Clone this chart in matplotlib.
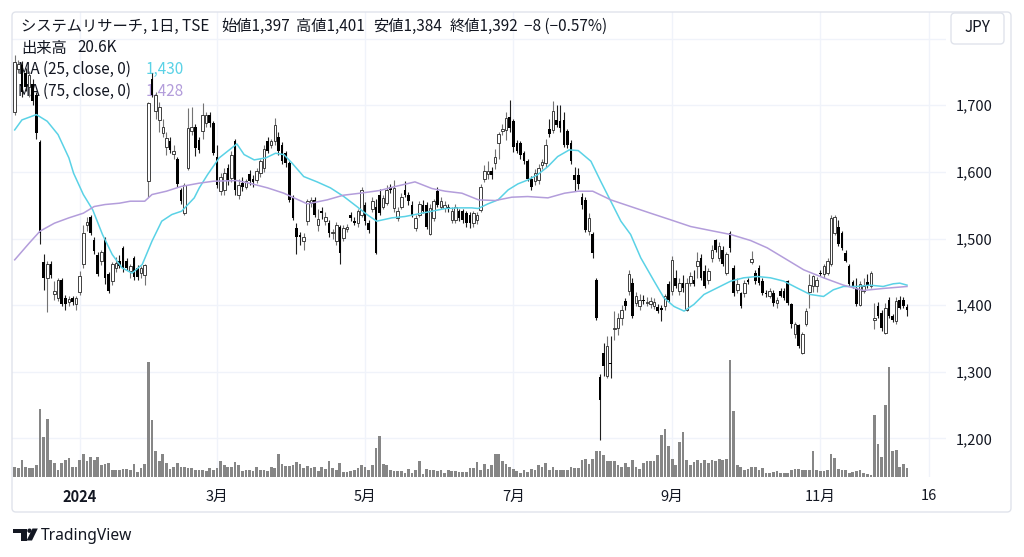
import numpy as np
import matplotlib
matplotlib.use("Agg")
import matplotlib.pyplot as plt
from matplotlib.patches import FancyBboxPatch, Polygon, Circle

plt.rcParams['font.family'] = ['Noto Sans CJK JP', 'DejaVu Sans']

# daily candles (yen)
opens = [
    1690, 1755, 1760, 1748, 1728, 1732, 1716, 1645, 1465, 1440,
    1461, 1416, 1411, 1437, 1411, 1405, 1411, 1401, 1420, 1461,
    1521, 1532, 1498, 1475, 1466, 1500, 1446, 1436, 1455, 1466,
    1485, 1466, 1451, 1470, 1456, 1448, 1445, 1587, 1740, 1691,
    1678, 1658, 1638, 1646, 1627, 1620, 1573, 1538, 1606, 1661,
    1668, 1648, 1661, 1673, 1686, 1673, 1622, 1571, 1573, 1606,
    1591, 1646, 1566, 1583, 1578, 1597, 1590, 1588, 1598, 1606,
    1647, 1641, 1646, 1653, 1641, 1628, 1613, 1561, 1516, 1505,
    1496, 1526, 1553, 1558, 1520, 1541, 1527, 1523, 1508, 1496,
    1517, 1501, 1515, 1536, 1527, 1524, 1536, 1551, 1523, 1544,
    1548, 1566, 1548, 1553, 1578, 1546, 1531, 1548, 1573, 1565,
    1551, 1516, 1536, 1551, 1550, 1507, 1531, 1571, 1548, 1546,
    1548, 1528, 1528, 1541, 1541, 1538, 1536, 1523, 1528, 1543,
    1590, 1597, 1602, 1613, 1643, 1661, 1663, 1683, 1676, 1643,
    1643, 1628, 1617, 1590, 1586, 1588, 1610, 1613, 1665, 1663,
    1678, 1676, 1678, 1661, 1643, 1596, 1596, 1563, 1558, 1511,
    1507, 1437, 1292, 1328, 1293, 1313, 1364, 1366, 1381, 1406,
    1421, 1433, 1403, 1398, 1408, 1403, 1401, 1399, 1397, 1395,
    1398, 1431, 1421, 1441, 1421, 1433, 1393, 1433, 1438, 1458,
    1471, 1451, 1438, 1471, 1498, 1471, 1483, 1448, 1508, 1456,
    1423, 1418, 1418, 1438, 1464, 1448, 1456, 1436, 1418, 1413,
    1418, 1403, 1421, 1421, 1436, 1401, 1356, 1370, 1328, 1371,
    1420, 1428, 1428, 1448, 1446, 1448, 1461, 1509, 1518, 1508,
    1478, 1458, 1434, 1426, 1400, 1421, 1434, 1428, 1378, 1398,
    1388, 1358, 1408, 1383, 1376, 1408, 1408, 1397,
]
highs = [
    1775, 1768, 1766, 1756, 1752, 1740, 1720, 1648, 1476, 1466,
    1466, 1436, 1440, 1440, 1415, 1413, 1414, 1414, 1451, 1520,
    1533, 1535, 1503, 1480, 1482, 1502, 1450, 1465, 1472, 1475,
    1488, 1470, 1462, 1474, 1460, 1458, 1462, 1705, 1748, 1720,
    1705, 1680, 1660, 1652, 1640, 1622, 1576, 1584, 1696, 1698,
    1672, 1652, 1703, 1690, 1690, 1676, 1640, 1598, 1606, 1612,
    1632, 1650, 1590, 1592, 1590, 1603, 1596, 1606, 1620, 1640,
    1652, 1650, 1681, 1660, 1645, 1632, 1616, 1565, 1523, 1510,
    1508, 1560, 1562, 1562, 1545, 1548, 1540, 1528, 1515, 1525,
    1520, 1520, 1522, 1540, 1532, 1545, 1578, 1555, 1528, 1562,
    1560, 1574, 1566, 1580, 1582, 1588, 1548, 1568, 1587, 1570,
    1556, 1536, 1557, 1558, 1555, 1552, 1560, 1577, 1562, 1556,
    1552, 1548, 1552, 1545, 1545, 1542, 1540, 1542, 1540, 1582,
    1610, 1616, 1608, 1635, 1660, 1672, 1690, 1708, 1680, 1648,
    1646, 1632, 1620, 1594, 1604, 1612, 1620, 1650, 1680, 1706,
    1701, 1700, 1690, 1665, 1648, 1608, 1606, 1568, 1562, 1538,
    1510, 1440, 1296, 1343, 1353, 1353, 1391, 1388, 1400, 1410,
    1453, 1440, 1420, 1416, 1415, 1412, 1412, 1410, 1402, 1400,
    1416, 1436, 1473, 1453, 1440, 1445, 1440, 1450, 1453, 1480,
    1476, 1460, 1455, 1490, 1500, 1495, 1488, 1480, 1511, 1460,
    1440, 1420, 1438, 1440, 1481, 1452, 1460, 1440, 1422, 1425,
    1422, 1412, 1425, 1426, 1438, 1403, 1375, 1372, 1360, 1395,
    1446, 1445, 1442, 1452, 1462, 1470, 1536, 1536, 1528, 1512,
    1482, 1462, 1438, 1440, 1436, 1440, 1446, 1451, 1403, 1404,
    1392, 1403, 1412, 1386, 1412, 1413, 1412, 1401,
]
lows = [
    1686, 1748, 1712, 1722, 1712, 1700, 1650, 1492, 1423, 1390,
    1440, 1408, 1406, 1398, 1392, 1398, 1400, 1392, 1415, 1456,
    1511, 1505, 1476, 1443, 1460, 1431, 1418, 1430, 1450, 1455,
    1450, 1452, 1440, 1438, 1438, 1440, 1430, 1562, 1712, 1680,
    1660, 1652, 1625, 1628, 1620, 1578, 1552, 1536, 1603, 1655,
    1624, 1628, 1650, 1668, 1668, 1625, 1576, 1566, 1565, 1580,
    1585, 1566, 1560, 1572, 1574, 1580, 1578, 1583, 1592, 1600,
    1628, 1636, 1640, 1625, 1612, 1608, 1555, 1528, 1476, 1490,
    1482, 1520, 1548, 1532, 1512, 1530, 1520, 1503, 1500, 1490,
    1461, 1496, 1510, 1526, 1520, 1518, 1532, 1520, 1508, 1540,
    1476, 1536, 1544, 1550, 1568, 1540, 1526, 1545, 1562, 1550,
    1532, 1512, 1532, 1538, 1514, 1505, 1526, 1548, 1544, 1540,
    1540, 1524, 1524, 1526, 1524, 1518, 1516, 1518, 1522, 1540,
    1585, 1590, 1590, 1605, 1620, 1655, 1648, 1660, 1630, 1628,
    1620, 1612, 1586, 1573, 1580, 1582, 1604, 1608, 1652, 1658,
    1668, 1660, 1638, 1636, 1612, 1571, 1575, 1545, 1510, 1506,
    1471, 1378, 1198, 1293, 1290, 1291, 1348, 1355, 1370, 1393,
    1415, 1380, 1398, 1392, 1402, 1398, 1396, 1394, 1388, 1376,
    1392, 1404, 1415, 1425, 1415, 1420, 1391, 1428, 1428, 1440,
    1438, 1425, 1432, 1465, 1480, 1466, 1458, 1445, 1480, 1414,
    1418, 1396, 1412, 1432, 1461, 1432, 1430, 1415, 1412, 1410,
    1398, 1396, 1412, 1408, 1400, 1366, 1350, 1335, 1327, 1368,
    1396, 1420, 1420, 1444, 1440, 1445, 1458, 1505, 1488, 1482,
    1464, 1428, 1425, 1398, 1398, 1418, 1426, 1425, 1364, 1380,
    1361, 1356, 1380, 1375, 1372, 1394, 1396, 1384,
]
closes = [
    1765, 1762, 1720, 1728, 1745, 1706, 1658, 1508, 1441, 1462,
    1445, 1421, 1437, 1401, 1401, 1409, 1404, 1411, 1443, 1508,
    1525, 1508, 1481, 1447, 1480, 1441, 1421, 1461, 1463, 1458,
    1456, 1456, 1459, 1442, 1442, 1455, 1460, 1703, 1716, 1716,
    1698, 1668, 1651, 1633, 1632, 1582, 1556, 1581, 1666, 1668,
    1636, 1633, 1686, 1686, 1673, 1628, 1581, 1593, 1598, 1586,
    1626, 1573, 1581, 1578, 1587, 1586, 1585, 1601, 1616, 1634,
    1632, 1647, 1671, 1631, 1616, 1613, 1558, 1531, 1503, 1502,
    1503, 1556, 1558, 1536, 1530, 1539, 1532, 1508, 1510, 1521,
    1478, 1516, 1518, 1531, 1524, 1541, 1573, 1526, 1513, 1556,
    1478, 1538, 1561, 1573, 1573, 1576, 1541, 1563, 1566, 1556,
    1536, 1531, 1552, 1541, 1517, 1546, 1556, 1551, 1556, 1551,
    1545, 1542, 1548, 1531, 1528, 1523, 1523, 1538, 1535, 1578,
    1601, 1602, 1596, 1623, 1657, 1665, 1681, 1666, 1638, 1631,
    1626, 1616, 1590, 1578, 1598, 1606, 1615, 1641, 1657, 1691,
    1671, 1666, 1641, 1641, 1616, 1588, 1582, 1551, 1513, 1531,
    1478, 1380, 1257, 1308, 1338, 1311, 1366, 1381, 1393, 1398,
    1447, 1383, 1413, 1408, 1406, 1405, 1406, 1404, 1391, 1393,
    1413, 1408, 1468, 1428, 1433, 1426, 1433, 1443, 1432, 1466,
    1441, 1428, 1451, 1483, 1483, 1488, 1461, 1476, 1486, 1418,
    1431, 1398, 1433, 1435, 1469, 1436, 1433, 1418, 1416, 1421,
    1403, 1408, 1414, 1411, 1403, 1371, 1371, 1338, 1357, 1391,
    1430, 1443, 1438, 1446, 1458, 1466, 1531, 1533, 1491, 1486,
    1466, 1431, 1429, 1401, 1432, 1429, 1429, 1448, 1381, 1383,
    1366, 1396, 1383, 1378, 1406, 1396, 1398, 1392,
]
# volume, thousands of shares
volumes = [
    24, 21, 40, 23, 20, 20, 27, 156, 92, 132,
    40, 32, 17, 32, 40, 44, 23, 24, 38, 53,
    37, 46, 38, 46, 27, 29, 32, 17, 15, 15,
    19, 19, 17, 29, 11, 21, 29, 263, 130, 60,
    37, 53, 31, 19, 23, 31, 24, 23, 21, 21,
    15, 17, 17, 13, 21, 15, 21, 36, 28, 24,
    24, 34, 27, 14, 15, 15, 14, 23, 17, 17,
    14, 23, 21, 53, 29, 26, 26, 27, 34, 29,
    21, 26, 21, 23, 13, 24, 19, 37, 21, 15,
    33, 11, 11, 13, 17, 21, 27, 23, 17, 27,
    67, 94, 29, 27, 15, 14, 14, 13, 10, 19,
    9, 15, 36, 6, 19, 17, 17, 13, 15, 10,
    15, 13, 13, 11, 11, 11, 21, 21, 34, 17,
    29, 19, 27, 52, 53, 37, 29, 24, 19, 14,
    9, 15, 11, 19, 17, 27, 23, 32, 15, 23,
    15, 15, 15, 15, 23, 21, 21, 38, 42, 29,
    42, 60, 60, 51, 37, 37, 37, 27, 23, 32,
    23, 40, 24, 19, 32, 37, 37, 37, 50, 97,
    111, 72, 42, 27, 80, 103, 40, 27, 34, 40,
    31, 38, 32, 40, 37, 42, 38, 41, 267, 150,
    28, 23, 15, 19, 23, 24, 15, 21, 9, 9,
    11, 14, 10, 10, 9, 15, 19, 19, 15, 15,
    15, 60, 15, 14, 13, 15, 53, 44, 19, 17,
    15, 9, 11, 14, 15, 9, 6, 4, 143, 76,
    46, 166, 253, 60, 61, 24, 29, 20.6,
]

# moving averages (bar number, value)
ma25_at = [0, 2, 6, 9, 12, 15, 16.3, 19, 21.6, 24.3, 27, 29.7, 32.5, 35.3, 38,
           40.7, 43.5, 46.2, 49.7, 51.1, 53.4, 56.6, 59.4, 61.5, 63.5, 66.3,
           69.5, 72.2, 74.5, 76.8, 80, 83.7, 87.4, 91.1, 94.7, 97.5, 100.2,
           104.4, 108, 111.8, 115.5, 119.2, 122.8, 126.5, 128.3, 131, 133.8,
           136.6, 139.3, 142.1, 144.8, 147.6, 150.3, 153.5, 156, 159.5, 162.2,
           165, 167.8, 170.5, 173.3, 177, 179.7, 182.5, 185.3, 188, 190.8,
           194.5, 198.2, 201.8, 205.5, 209.2, 212.9, 216.5, 220.2, 223.9,
           226.6, 229.4, 233.1, 236.7, 240.4, 243.2, 245, 247]
ma25 = [1663, 1678, 1686, 1676, 1656, 1621, 1598, 1566, 1543, 1506, 1476, 1456,
        1448, 1461, 1496, 1526, 1536, 1541, 1561, 1576, 1596, 1621, 1633, 1642,
        1626, 1618, 1621, 1628, 1626, 1613, 1593, 1585, 1576, 1563, 1548, 1536,
        1526, 1531, 1533, 1537, 1541, 1545, 1546, 1546, 1545, 1552, 1558, 1573,
        1582, 1588, 1596, 1608, 1623, 1633, 1632, 1616, 1586, 1556, 1526, 1506,
        1471, 1436, 1411, 1398, 1391, 1401, 1416, 1426, 1436, 1441, 1443, 1441,
        1436, 1426, 1416, 1413, 1423, 1428, 1428, 1430, 1428, 1432, 1433, 1430]
ma75_at = [0, 4, 7, 11, 15, 19, 22, 25, 29, 32, 36, 38, 42, 46, 51, 55, 61.5,
           65, 70, 74.5, 77.3, 81, 86.5, 91, 95.6, 101, 105.3, 110.8, 115.5,
           119.2, 123.8, 128.4, 133, 137.6, 142, 147.6, 152.2, 156, 160, 165,
           170.5, 176, 181.6, 187.1, 192.6, 198.2, 203.7, 208.3, 212.9, 218.4,
           223.9, 229.4, 234.9, 240.4, 247]
ma75 = [1468, 1493, 1511, 1523, 1531, 1538, 1548, 1551, 1553, 1556, 1556, 1566,
        1571, 1578, 1583, 1586, 1587, 1583, 1576, 1568, 1561, 1552, 1558, 1565,
        1568, 1572, 1578, 1585, 1575, 1571, 1568, 1558, 1557, 1562, 1563, 1561,
        1568, 1571, 1571, 1558, 1548, 1538, 1528, 1518, 1512, 1506, 1497, 1486,
        1471, 1453, 1441, 1430, 1422, 1425, 1428]

tick_at = [18, 56, 97, 138, 182, 223, 253]
tick_labels = ['2024', '3月', '5月', '7月', '9月', '11月', '16']
price_ticks = [1200, 1300, 1400, 1500, 1600, 1700, 1800]

header_parts = ['システムリサーチ, 1日, TSE', '始値1,397', '高値1,401', '安値1,384',
                '終値1,392', '−8 (−0.57%)']
header_x = [21, 221, 296, 373, 450, 524]

TXT = '#131722'
GRID = '#f0f3fa'
C25 = '#5ad2e6'
C75 = '#b39ddb'
W, H = 1024, 557

def fx(px):
    return px / W

def fy(py):
    return 1 - py / H

def inch(px, py):
    return (px / 100, (H - py) / 100)

o = np.array(opens, float)
h = np.array(highs, float)
l = np.array(lows, float)
c = np.array(closes, float)
v = np.array(volumes, float)
n = len(o)
x = np.arange(n)

fig = plt.figure(figsize=(W / 100, H / 100), dpi=100)
fig.patch.set_facecolor('white')

# plot pane 12..946 px wide, 12..477 px high
left, right, top, bottom = 12, 946, 12, 477
rect = [fx(left), fy(bottom), fx(right - left), (bottom - top) / H]
step = (907 - 14.7) / (n - 1)
xlim = (-(14.7 - left) / step, (right - 14.7) / step)
ylim = (1142, 1840)

ax_grid = fig.add_axes(rect)
ax_vol = fig.add_axes(rect)
ax = fig.add_axes(rect)
for a in (ax_grid, ax_vol, ax):
    a.set_xlim(*xlim)
    for s in a.spines.values():
        s.set_visible(False)
ax_vol.patch.set_alpha(0)
ax.patch.set_alpha(0)
ax_grid.set_ylim(*ylim)
ax.set_ylim(*ylim)

ax_grid.set_xticks(tick_at)
ax_grid.set_xticklabels(tick_labels)
ax_grid.set_yticks(price_ticks)
ax_grid.set_yticklabels([f'{p:,}' if p < 1800 else '' for p in price_ticks])
ax_grid.yaxis.tick_right()
ax_grid.tick_params(axis='both', length=0, labelsize=10.5, colors=TXT)
ax_grid.tick_params(axis='x', pad=9)
ax_grid.tick_params(axis='y', pad=7)
ax_grid.get_xticklabels()[0].set_fontweight('bold')
ax_grid.grid(True, color=GRID, lw=1)

# volume overlay: 2.29K per pixel
ax_vol.set_ylim(0, (bottom - top) * 2.29)
ax_vol.bar(x, v, width=0.75, color='#868686', lw=0)
ax_vol.set_xticks([])
ax_vol.set_yticks([])
ax.set_xticks([])
ax.set_yticks([])

up = c >= o
ax.vlines(x[up], l[up], h[up], color='#737373', lw=0.8, zorder=3)
ax.vlines(x[~up], l[~up], h[~up], color='#1e1e1e', lw=0.8, zorder=3)
body_lo = np.minimum(o, c)
body_h = np.maximum(np.abs(c - o), 1.5)
ax.bar(x[up], body_h[up], bottom=body_lo[up], width=0.72, facecolor='white',
       edgecolor='#333333', lw=0.65, zorder=4)
ax.bar(x[~up], body_h[~up], bottom=body_lo[~up], width=0.72, color='black',
       lw=0, zorder=4)

ax.plot(ma25_at, ma25, color=C25, lw=1.1, zorder=5)
ax.plot(ma75_at, ma75, color=C75, lw=1.1, zorder=5)

# legend texts sit under the candles
tk = dict(transform=fig.transFigure, fontsize=11, va='center', ha='left', zorder=1)
for part, px in zip(header_parts, header_x):
    ax.text(fx(px), fy(26.5), part, color=TXT, **tk)
ax.text(fx(21), fy(48), '出来高', color=TXT, **tk)
ax.text(fx(77), fy(48), '20.6K', color=TXT, **tk)
ax.text(fx(18), fy(69.5), 'MA (25, close, 0)', color=TXT, **tk)
ax.text(fx(146), fy(69.5), '1,430', color=C25, **tk)
ax.text(fx(18), fy(91), 'MA (75, close, 0)', color=TXT, **tk)
ax.text(fx(146), fy(91), '1,428', color=C75, **tk)

# outer frame and currency badge
tr = fig.dpi_scale_trans
fig.add_artist(FancyBboxPatch(inch(12, 512), 9.99, 5.0, boxstyle='round,pad=0,rounding_size=0.04',
                              transform=tr, fill=False, edgecolor='#e0e3eb', lw=1))
fig.add_artist(FancyBboxPatch(inch(951, 44), 0.53, 0.31, boxstyle='round,pad=0,rounding_size=0.04',
                              transform=tr, facecolor='white', edgecolor='#e0e3eb', lw=1))
fig.text(fx(977.5), fy(28), 'JPY', fontsize=11, color=TXT, ha='center', va='center')

# TradingView mark
logo = '#131722'
fig.add_artist(Polygon([inch(13, 528.5), inch(26.5, 528.5), inch(26.5, 540.5), inch(21, 540.5),
                        inch(21, 533), inch(13, 533)], closed=True, transform=tr, color=logo, lw=0))
fig.add_artist(Circle(inch(29.5, 530.7), 0.022, transform=tr, color=logo, lw=0))
fig.add_artist(Polygon([inch(32.5, 528.5), inch(37.8, 528.5), inch(32, 540.5), inch(26.6, 540.5)],
                       closed=True, transform=tr, color=logo, lw=0))
fig.text(fx(41), fy(535.5), 'TradingView', fontsize=11.2, color=TXT, ha='left', va='center',
         family=['Noto Sans', 'DejaVu Sans'])

fig.savefig('out.png', dpi=100, facecolor='white')
